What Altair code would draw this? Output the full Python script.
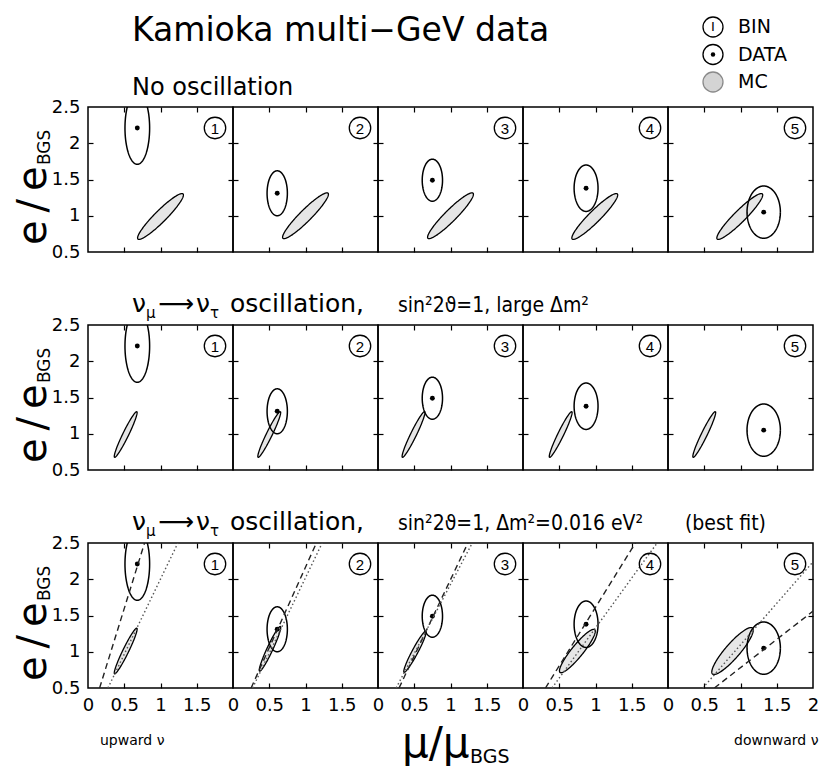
import altair as alt
import numpy as np
import pandas as pd

W = H = 145
FONT = "DejaVu Sans"
COND = "DejaVu Sans Condensed"

# ---------------- values ----------------
bins = ["1", "2", "3", "4", "5"]

# observed data: centre (mu/mu_BGS, e/e_BGS) and half widths of the error ellipse
data_mu = [0.68, 0.61, 0.75, 0.87, 1.32]
data_e = [2.21, 1.31, 1.49, 1.38, 1.05]
data_dmu = [0.17, 0.14, 0.14, 0.165, 0.23]
data_de = [0.50, 0.31, 0.29, 0.32, 0.36]

# MC expectation ellipses: centre, semi-major, semi-minor, tilt (deg)
# row 0: no oscillation
mc0_mu = [1.00, 1.00, 1.00, 0.99, 0.99]
mc0_e = [0.99, 1.00, 1.00, 0.99, 0.99]
mc0_a = [0.44, 0.44, 0.44, 0.44, 0.44]
mc0_b = [0.08, 0.08, 0.08, 0.08, 0.08]
mc0_ang = [45, 45, 45, 45, 45]
# row 1: large dm^2
mc1_mu = [0.52, 0.50, 0.49, 0.52, 0.50]
mc1_e = [0.99, 0.99, 0.99, 0.99, 0.99]
mc1_a = [0.35, 0.35, 0.35, 0.35, 0.35]
mc1_b = [0.04, 0.04, 0.04, 0.04, 0.04]
mc1_ang = [64, 64, 64, 64, 64]
# row 2: best fit dm^2 = 0.016 eV^2
mc2_mu = [0.52, 0.51, 0.51, 0.75, 0.89]
mc2_e = [1.01, 1.04, 1.00, 1.01, 1.01]
mc2_a = [0.35, 0.34, 0.32, 0.38, 0.42]
mc2_b = [0.04, 0.04, 0.04, 0.08, 0.10]
mc2_ang = [64, 65, 62, 51, 49]

# best-fit row: dashed line (through data) and dotted line (through MC), end points
dash_mu0 = [0.16, 0.25, 0.29, 0.31, 0.64]
dash_e0 = [0.5, 0.5, 0.5, 0.5, 0.5]
dash_mu1 = [0.78, 1.15, 1.24, 1.55, 2.00]
dash_e1 = [2.5, 2.5, 2.5, 2.5, 1.56]
dot_mu0 = [0.275, 0.27, 0.25, 0.40, 0.48]
dot_e0 = [0.5, 0.5, 0.5, 0.5, 0.5]
dot_mu1 = [1.24, 1.23, 1.30, 1.85, 2.00]
dot_e1 = [2.5, 2.5, 2.5, 2.5, 2.24]

x_labels = [0, 0.5, 1, 1.5]
x_labels_last = [0, 0.5, 1, 1.5, 2]
y_labels = [0.5, 1, 1.5, 2, 2.5]
inner_x = [0.5, 1, 1.5]
inner_y = [1, 1.5, 2]

MC = [
    (mc0_mu, mc0_e, mc0_a, mc0_b, mc0_ang),
    (mc1_mu, mc1_e, mc1_a, mc1_b, mc1_ang),
    (mc2_mu, mc2_e, mc2_a, mc2_b, mc2_ang),
]

xs = alt.Scale(domain=[0, 2], nice=False, zero=False)
ys = alt.Scale(domain=[0.5, 2.5], nice=False, zero=False)


def outline(cx, cy, a, b, ang, n=160):
    t = np.linspace(0, 2 * np.pi, n + 1)
    th = np.radians(ang)
    x = cx + a * np.cos(t) * np.cos(th) - b * np.sin(t) * np.sin(th)
    y = cy + a * np.cos(t) * np.sin(th) + b * np.sin(t) * np.cos(th)
    return pd.DataFrame({"x": x, "y": y, "o": np.arange(n + 1)})


def band(cx, cy, a, b, ang, n=120):
    th = np.radians(ang)
    c, s = np.cos(th), np.sin(th)
    hx = np.sqrt((a * c) ** 2 + (b * s) ** 2)
    xp = -hx * np.cos(np.linspace(0, np.pi, n))
    A = s * s / a**2 + c * c / b**2
    B = 2 * xp * s * c * (1 / a**2 - 1 / b**2)
    C = xp**2 * (c * c / a**2 + s * s / b**2) - 1
    r = np.sqrt(np.clip(B * B - 4 * A * C, 0, None))
    return pd.DataFrame({"x": cx + xp, "y": cy + (-B + r) / (2 * A), "y2": cy + (-B - r) / (2 * A)})


def tick_axis(orient, values, offset):
    return alt.Axis(orient=orient, offset=offset, values=values, labels=False,
                    domain=False, grid=False, ticks=True, tickSize=5,
                    tickColor="black", tickWidth=1.2)


def label_x(values):
    return alt.Axis(orient="bottom", values=values, format="~g", labelFlush=False,
                    labelOverlap=False, ticks=False, domain=False, grid=False,
                    labelPadding=8, labelFontSize=18, labelFont=FONT, labelColor="black")


def label_y():
    return alt.Axis(orient="left", values=y_labels, format="~g", labelFlush=False,
                    labelOverlap=False, ticks=False, domain=False, grid=False,
                    labelPadding=8, labelFontSize=18, labelFont=FONT, labelColor="black")


def txt(s, x, y, size, font=FONT, angle=0, align="left", baseline="alphabetic", color="black"):
    props = dict(fontSize=size, font=font, align=align, baseline=baseline, color=color)
    if angle:
        props["angle"] = angle
    return alt.Chart(pd.DataFrame({"t": [s]})).mark_text(**props).encode(
        x=alt.value(x), y=alt.value(y), text="t:N")


def header(row):
    y0 = -13
    parts = [
        txt("ν", 44, y0, 25),
        txt("μ", 58, y0 + 6, 15),
        txt("⟶", 70, y0, 25),
        txt("ν", 108, y0, 25),
        txt("τ", 122, y0 + 6, 15),
        txt("oscillation,", 142, y0, 25),
    ]
    if row == 1:
        parts.append(txt("sin²2ϑ=1, large Δm²", 310, y0, 21, font=COND))
    else:
        parts.append(txt("sin²2ϑ=1, Δm²=0.016 eV²", 310, y0, 21, font=COND))
        parts.append(txt("(best fit)", 597, y0, 21, font=COND))
    return parts


def panel(r, k):
    mu, e, a, b, ang = (arr[k] for arr in MC[r])
    layers = []
    layers.append(alt.Chart(band(mu, e, a, b, ang)).mark_area(color="#e6e6e6", clip=True).encode(
        x=alt.X("x:Q", scale=xs, title=None, axis=tick_axis("top", inner_x, -H)),
        y=alt.Y("y:Q", scale=ys, title=None, axis=tick_axis("right", inner_y, -W)),
        y2="y2:Q"))
    layers.append(alt.Chart(outline(mu, e, a, b, ang)).mark_line(
        color="black", strokeWidth=1.3, clip=True).encode(
        x=alt.X("x:Q", scale=xs, title=None, axis=tick_axis("bottom", inner_x, -H)),
        y=alt.Y("y:Q", scale=ys, title=None, axis=tick_axis("left", inner_y, -W)),
        order="o:Q"))
    xl = label_x(x_labels_last if k == 4 else x_labels) if r == 2 else None
    yl = label_y() if k == 0 else None
    layers.append(alt.Chart(outline(data_mu[k], data_e[k], data_dmu[k], data_de[k], 0)).mark_line(
        color="black", strokeWidth=1.5, clip=True).encode(
        x=alt.X("x:Q", scale=xs, title=None, axis=xl),
        y=alt.Y("y:Q", scale=ys, title=None, axis=yl),
        order="o:Q"))
    layers.append(alt.Chart(pd.DataFrame({"x": [data_mu[k]], "y": [data_e[k]]})).mark_point(
        filled=True, size=24, color="black", opacity=1).encode(
        x=alt.X("x:Q", scale=xs, axis=None), y=alt.Y("y:Q", scale=ys, axis=None)))
    if r == 2:
        dd = pd.DataFrame({"x": [dash_mu0[k], dash_mu1[k]], "y": [dash_e0[k], dash_e1[k]]})
        layers.append(alt.Chart(dd).mark_line(color="#222", strokeWidth=1.4, strokeDash=[6, 4], clip=True).encode(
            x=alt.X("x:Q", scale=xs, axis=None), y=alt.Y("y:Q", scale=ys, axis=None)))
        dt = pd.DataFrame({"x": [dot_mu0[k], dot_mu1[k]], "y": [dot_e0[k], dot_e1[k]]})
        layers.append(alt.Chart(dt).mark_line(color="#555", strokeWidth=1.4, strokeDash=[1.5, 2.5], clip=True).encode(
            x=alt.X("x:Q", scale=xs, axis=None), y=alt.Y("y:Q", scale=ys, axis=None)))
    # circled bin number
    lab = pd.DataFrame({"t": [bins[k]]})
    layers.append(alt.Chart(lab).mark_point(shape="circle", size=460, filled=False, color="black",
                                            strokeWidth=1.3, opacity=1).encode(
        x=alt.value(127), y=alt.value(21)))
    layers.append(alt.Chart(lab).mark_text(fontSize=15, font="Liberation Sans", baseline="middle",
                                           align="center", dy=1, color="black").encode(
        x=alt.value(127), y=alt.value(21), text="t:N"))
    # y axis title
    if k == 0:
        layers.append(txt("e\u2009/\u2009e", -42, 138, 40, angle=270))
        layers.append(txt("BGS", -38, 58, 17, angle=270))
    if r == 0 and k == 0:
        layers.append(txt("Kamioka multi−GeV data", 44, -66, 33))
        layers.append(txt("No oscillation", 44, -12, 24))
    if r > 0 and k == 0:
        layers += header(r)
    if r == 0 and k == 4:
        ldf = pd.DataFrame({"t": ["I"]})
        for yy in (-80, -52.5):
            layers.append(alt.Chart(ldf).mark_point(shape="circle", size=400, filled=False, color="black",
                                                    strokeWidth=1.3, opacity=1).encode(
                x=alt.value(45), y=alt.value(yy)))
        layers.append(alt.Chart(ldf).mark_point(shape="circle", size=400, filled=True, fill="#d4d4d4",
                                                stroke="#8a8a8a", strokeWidth=1.3, opacity=1).encode(
            x=alt.value(45), y=alt.value(-25)))
        layers.append(txt("I", 45, -80, 13, font=FONT, align="center", baseline="middle"))
        layers.append(alt.Chart(ldf).mark_point(filled=True, size=20, color="black", opacity=1).encode(
            x=alt.value(45), y=alt.value(-52.5)))
        layers.append(txt("BIN", 70, -80, 19, baseline="middle"))
        layers.append(txt("DATA", 70, -52.5, 19, baseline="middle"))
        layers.append(txt("MC", 70, -25, 19, baseline="middle"))
    if r == 2 and k == 0:
        layers.append(txt("upward ν", 12, 202, 14))
    if r == 2 and k == 4:
        layers.append(txt("downward ν", 66, 202, 14))
    if r == 2 and k == 2:
        layers.append(txt("μ/μ", 24, 214, 42))
        layers.append(txt("BGS", 92, 220, 19))
    return alt.layer(*layers).resolve_axis(x="independent", y="independent").properties(width=W, height=H)


panels = [panel(r, k) for r in range(3) for k in range(5)]
chart = alt.concat(*panels, columns=5, spacing=alt.RowColnumber(row=73, column=0), bounds="flush").properties(
    padding={"left": 5, "top": 5, "right": 0, "bottom": 0}
).configure(font=FONT, background="white").configure_view(stroke="black", strokeWidth=1.5)

chart.save("out.html", embed_options={"renderer": "svg", "actions": False})
